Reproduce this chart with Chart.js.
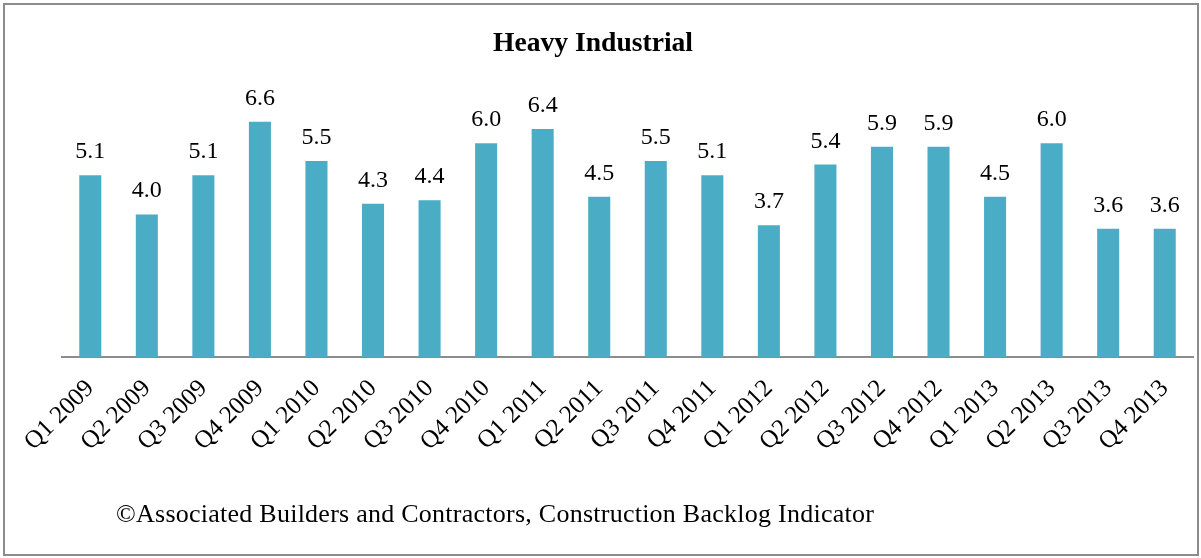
<!DOCTYPE html>
<html>
<head>
<meta charset="utf-8">
<script src="https://cdn.jsdelivr.net/npm/chart.js@4/dist/chart.umd.min.js"></script>
<style>
  html, body { margin: 0; padding: 0; background: #fff; }
  #wrap { position: relative; width: 1201px; height: 558px; overflow: hidden; }
  #frame { position: absolute; left: 3px; top: 3px; width: 1196px; height: 553px; box-sizing: border-box; border: 2px solid #8c8c8c; pointer-events: none; }
  canvas { position: absolute; left: 0; top: 0; }
  #source { position: absolute; left: 116px; top: 501px; font-family: 'Liberation Serif', 'Times New Roman', serif; font-size: 26px; line-height: 26px; letter-spacing: 0.25px; color: #000; white-space: nowrap; }
</style>
</head>
<body>
<div id="wrap">
  <canvas id="c" width="1201" height="558"></canvas>
  <div id="frame"></div>
  <div id="source">©Associated Builders and Contractors, Construction Backlog Indicator</div>
</div>
<script>
const chartTitle = 'Heavy Industrial';
const quarters = ['Q1 2009','Q2 2009','Q3 2009','Q4 2009','Q1 2010','Q2 2010','Q3 2010','Q4 2010','Q1 2011','Q2 2011','Q3 2011','Q4 2011','Q1 2012','Q2 2012','Q3 2012','Q4 2012','Q1 2013','Q2 2013','Q3 2013','Q4 2013'];
const backlogMonths = [5.1, 4.0, 5.1, 6.6, 5.5, 4.3, 4.4, 6.0, 6.4, 4.5, 5.5, 5.1, 3.7, 5.4, 5.9, 5.9, 4.5, 6.0, 3.6, 3.6];

const valueLabels = {
  id: 'valueLabels',
  afterDatasetsDraw(chart) {
    const ctx = chart.ctx;
    const meta = chart.getDatasetMeta(0);
    const data = chart.data.datasets[0].data;
    ctx.save();
    ctx.font = '24px "Liberation Serif", "Times New Roman", serif';
    ctx.fillStyle = '#000';
    ctx.textAlign = 'center';
    ctx.textBaseline = 'alphabetic';
    meta.data.forEach((el, i) => {
      ctx.fillText(Number(data[i]).toFixed(1), el.x, el.y - 17);
    });
    ctx.restore();
  }
};

const titleText = {
  id: 'titleText',
  afterDraw(chart) {
    const ctx = chart.ctx;
    ctx.save();
    ctx.font = 'bold 27.6px "Liberation Serif", "Times New Roman", serif';
    ctx.fillStyle = '#000';
    ctx.textAlign = 'center';
    ctx.textBaseline = 'alphabetic';
    ctx.fillText(chartTitle, 593, 51);
    ctx.restore();
  }
};

new Chart(document.getElementById('c'), {
  type: 'bar',
  data: {
    labels: quarters,
    datasets: [{
      data: backlogMonths,
      backgroundColor: '#4BACC6',
      borderWidth: 0,
      barPercentage: 0.39,
      categoryPercentage: 1.0
    }]
  },
  options: {
    responsive: false,
    animation: false,
    devicePixelRatio: 1,
    layout: { padding: { left: 62, right: 8, top: 107.6, bottom: 0 } },
    plugins: {
      legend: { display: false },
      tooltip: { enabled: false },
      title: { display: false }
    },
    scales: {
      x: {
        grid: { display: false },
        border: { display: true, color: '#8c8c8c', width: 2 },
        ticks: {
          color: '#000',
          font: { family: '"Liberation Serif", "Times New Roman", serif', size: 25 },
          maxRotation: 45,
          minRotation: 45,
          autoSkip: false,
          padding: 9
        },
        afterFit(scale) { scale.height = 201; }
      },
      y: {
        display: false,
        min: 0,
        max: 7
      }
    }
  },
  plugins: [valueLabels, titleText]
});
</script>
</body>
</html>
